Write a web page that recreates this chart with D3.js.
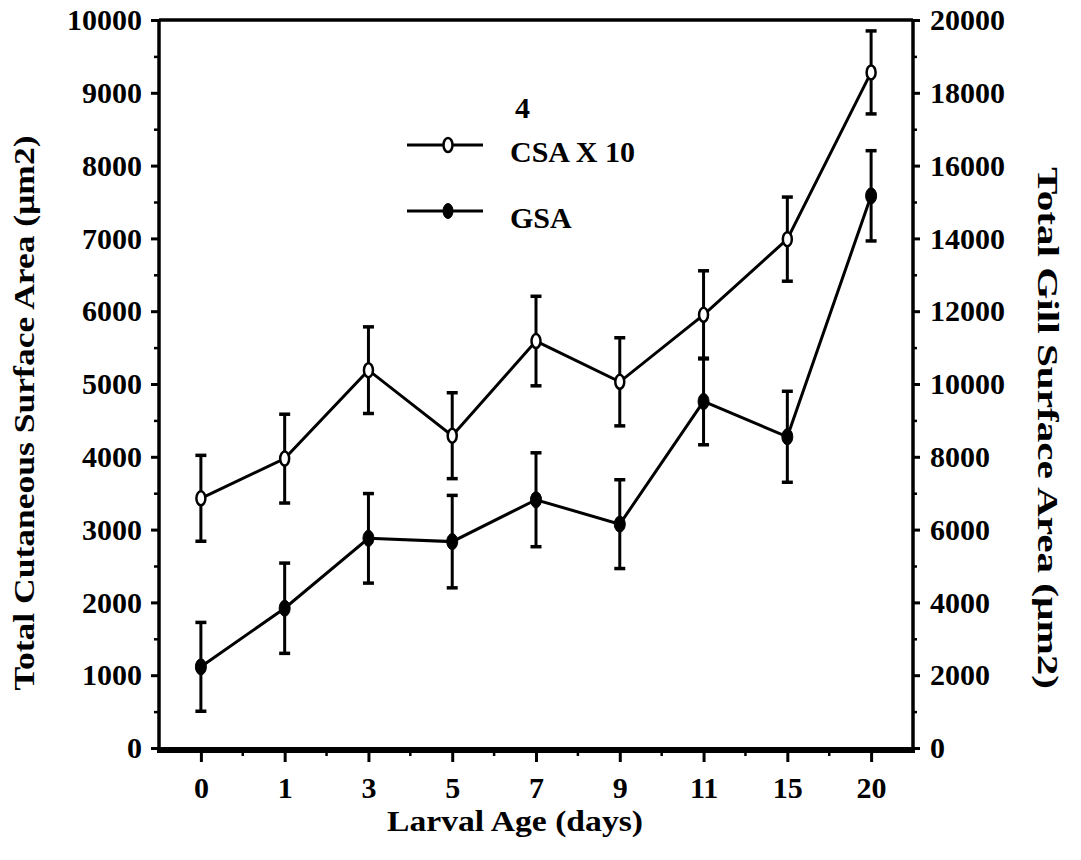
<!DOCTYPE html>
<html><head><meta charset="utf-8">
<script src="https://cdn.jsdelivr.net/npm/d3@7"></script>
<style>
html,body{margin:0;padding:0;background:#fff;}
svg text{font-family:"Liberation Serif","Times New Roman",serif;font-weight:bold;fill:#000;}
</style></head>
<body>
<svg id="chart" width="1081" height="860"></svg>
<script>
// ---- data ----
const ages = ["0","1","3","5","7","9","11","15","20"];
const csa = [3430, 3975, 5190, 4290, 5590, 5030, 5950, 6990, 9280];      // left axis (CSA x 10^4)
const csaErr = [590, 610, 595, 590, 615, 605, 605, 578, 570];
const gsa = [2230, 3840, 5760, 5670, 6820, 6150, 9520, 8550, 15170];    // right axis
const gsaErr = [1220, 1240, 1230, 1270, 1290, 1220, 1190, 1250, 1240];
const leftTicks = [0,1000,2000,3000,4000,5000,6000,7000,8000,9000,10000];
const leftMinor = [500,1500,2500,3500,4500,5500,6500,7500,8500,9500];
const rightTicks = [0,2000,4000,6000,8000,10000,12000,14000,16000,18000,20000];
const rightMinor = [1000,3000,5000,7000,9000,11000,13000,15000,17000,19000];
const labels = {
  x: "Larval Age (days)",
  yL: "Total Cutaneous Surface Area (\u03bcm2)",
  yR: "Total Gill Surface Area (\u03bcm2)",
  csa: "CSA X 10",
  sup: "4",
  gsa: "GSA"
};

const svg = d3.select("#chart");
const L = 159, R = 913, T = 20, B = 748;
const x = d3.scalePoint().domain(ages).range([L, R]).padding(0.5);
const yL = d3.scaleLinear().domain([0, 10000]).range([B, T]);
const yR = d3.scaleLinear().domain([0, 20000]).range([B, T]);
const FS = 30;

function styleAxis(g, w) {
  g.selectAll("path.domain").remove();
  g.selectAll("line").attr("stroke", "#000").attr("stroke-width", w);
  g.selectAll("text").attr("font-size", FS).attr("font-family", "Liberation Serif").attr("font-weight", "bold").attr("fill", "#000");
}

// left axis
const gl = svg.append("g").attr("transform", `translate(${L},0)`)
  .call(d3.axisLeft(yL).tickValues(leftTicks).tickSize(8).tickPadding(9).tickFormat(d3.format("d")));
styleAxis(gl, 3);
const glm = svg.append("g").attr("transform", `translate(${L},0)`)
  .call(d3.axisLeft(yL).tickValues(leftMinor).tickSize(5).tickFormat(""));
styleAxis(glm, 2.5);

// right axis
const gr = svg.append("g").attr("transform", `translate(${R},0)`)
  .call(d3.axisRight(yR).tickValues(rightTicks).tickSize(7).tickPadding(10).tickFormat(d3.format("d")));
styleAxis(gr, 3);
const grm = svg.append("g").attr("transform", `translate(${R},0)`)
  .call(d3.axisRight(yR).tickValues(rightMinor).tickSize(4).tickFormat(""));
styleAxis(grm, 2.5);

// bottom axis
const gb = svg.append("g").attr("transform", `translate(0,${B + 3})`)
  .call(d3.axisBottom(x).tickSize(11).tickPadding(15).tickSizeOuter(0));
styleAxis(gb, 3);
// minor x ticks at midpoints
const mids = ages.slice(1).map((a, i) => (x(ages[i]) + x(a)) / 2);
svg.append("g").selectAll("line").data(mids).join("line")
  .attr("x1", d => d).attr("x2", d => d).attr("y1", B + 3).attr("y2", B + 8)
  .attr("stroke", "#000").attr("stroke-width", 2.5);

// frame
svg.append("line").attr("x1", L).attr("x2", L).attr("y1", T - 1).attr("y2", B + 5).attr("stroke", "#000").attr("stroke-width", 3.5);
svg.append("line").attr("x1", R).attr("x2", R).attr("y1", T - 1).attr("y2", B + 5).attr("stroke", "#000").attr("stroke-width", 3.5);
svg.append("line").attr("x1", L).attr("x2", R).attr("y1", T).attr("y2", T).attr("stroke", "#000").attr("stroke-width", 3.5);
svg.append("line").attr("x1", L - 2).attr("x2", R + 2).attr("y1", B + 2).attr("y2", B + 2).attr("stroke", "#000").attr("stroke-width", 6);

// series
function drawSeries(vals, errs, y, filled) {
  const g = svg.append("g");
  const pts = ages.map((a, i) => ({a, v: vals[i], e: errs[i]}));
  // error bars
  const eb = g.append("g").selectAll("g").data(pts).join("g");
  eb.append("line").attr("x1", d => x(d.a)).attr("x2", d => x(d.a))
    .attr("y1", d => y(d.v + d.e)).attr("y2", d => y(d.v - d.e))
    .attr("stroke", "#000").attr("stroke-width", 3);
  eb.append("line").attr("x1", d => x(d.a) - 5.5).attr("x2", d => x(d.a) + 5.5)
    .attr("y1", d => y(d.v + d.e)).attr("y2", d => y(d.v + d.e))
    .attr("stroke", "#000").attr("stroke-width", 3.5);
  eb.append("line").attr("x1", d => x(d.a) - 5.5).attr("x2", d => x(d.a) + 5.5)
    .attr("y1", d => y(d.v - d.e)).attr("y2", d => y(d.v - d.e))
    .attr("stroke", "#000").attr("stroke-width", 3.5);
  // line
  g.append("path").datum(pts)
    .attr("d", d3.line().x(d => x(d.a)).y(d => y(d.v)))
    .attr("fill", "none").attr("stroke", "#000").attr("stroke-width", 3);
  // markers
  g.append("g").selectAll("ellipse").data(pts).join("ellipse")
    .attr("cx", d => x(d.a)).attr("cy", d => y(d.v))
    .attr("rx", filled ? 5.5 : 4.5).attr("ry", filled ? 8 : 7)
    .attr("fill", filled ? "#000" : "#fff").attr("stroke", "#000").attr("stroke-width", filled ? 1 : 2.5);
}
drawSeries(csa, csaErr, yL, false);
drawSeries(gsa, gsaErr, yR, true);

// legend
const lg = svg.append("g");
[[145, false, labels.csa, 162], [211, true, labels.gsa, 228]].forEach(([ly, filled, txt, base]) => {
  lg.append("line").attr("x1", 407).attr("x2", 483).attr("y1", ly).attr("y2", ly).attr("stroke", "#000").attr("stroke-width", 3);
  lg.append("ellipse").attr("cx", 448).attr("cy", ly).attr("rx", filled ? 5 : 4.5).attr("ry", filled ? 7.5 : 7)
    .attr("fill", filled ? "#000" : "#fff").attr("stroke", "#000").attr("stroke-width", filled ? 1 : 2.5);
  lg.append("text").attr("x", 510).attr("y", base).attr("font-size", FS).text(txt);
});
lg.append("text").attr("x", 515).attr("y", 118).attr("font-size", FS).text(labels.sup);

// axis titles
svg.append("text").attr("x", 515).attr("y", 831).attr("text-anchor", "middle")
  .attr("font-size", 30).attr("textLength", 256).attr("lengthAdjust", "spacingAndGlyphs").text(labels.x);
svg.append("text").attr("transform", "translate(34,413) rotate(-90)").attr("text-anchor", "middle")
  .attr("font-size", 29).attr("textLength", 555).attr("lengthAdjust", "spacingAndGlyphs").text(labels.yL);
svg.append("text").attr("transform", "translate(1038,428) rotate(90)").attr("text-anchor", "middle")
  .attr("font-size", 30).attr("textLength", 522).attr("lengthAdjust", "spacingAndGlyphs").text(labels.yR);
</script>
</body></html>
